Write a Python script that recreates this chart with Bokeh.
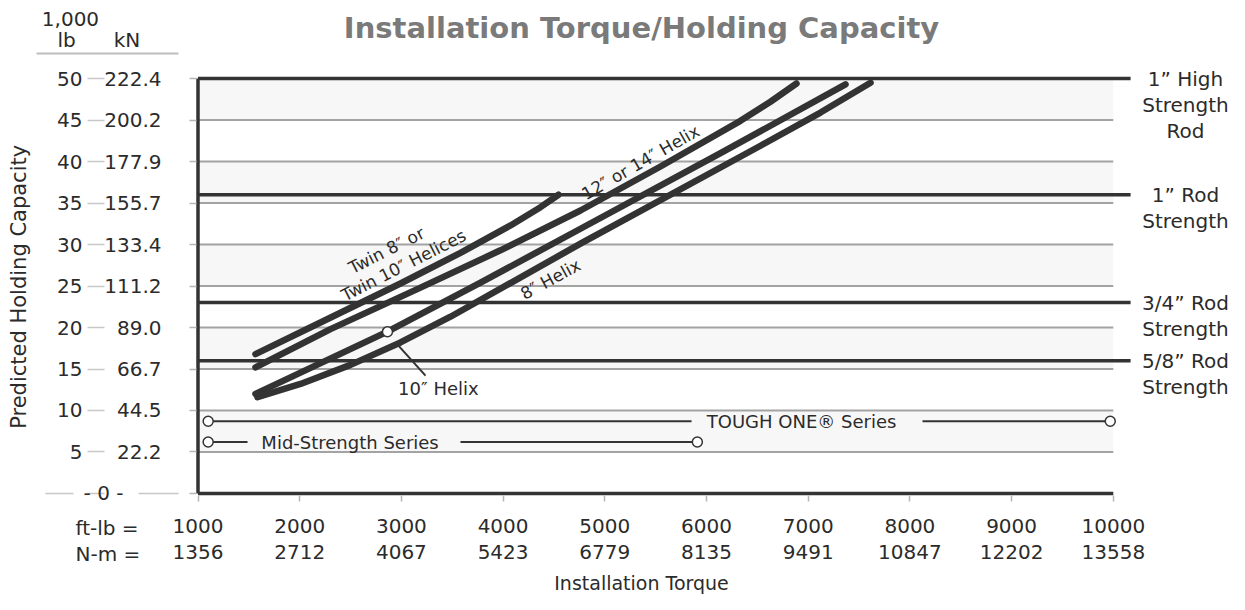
import math
from bokeh.plotting import figure
from bokeh.models import LinearAxis, FixedTicker, Label, Arrow, Range1d
from bokeh.embed import file_html
from bokeh.resources import INLINE

# ---------------- data ----------------
torque_ticks = [1000, 2000, 3000, 4000, 5000, 6000, 7000, 8000, 9000, 10000]
nm_labels = ["1356", "2712", "4067", "5423", "6779", "8135", "9491", "10847", "12202", "13558"]
capacity_ticks = [0, 5, 10, 15, 20, 25, 30, 35, 40, 45, 50]
kn_labels = ["", "22.2", "44.5", "66.7", "89.0", "111.2", "133.4", "155.7", "177.9", "200.2", "222.4"]

twin_torque = [1565, 2204, 2991, 3581, 4073, 4368, 4545]
twin_capacity = [16.8, 20.6, 25.3, 29.0, 32.3, 34.5, 36.0]
helix12_torque = [1565, 2303, 3188, 3974, 4761, 5548, 6334, 6629, 6885]
helix12_capacity = [15.2, 19.8, 24.8, 29.3, 34.1, 39.4, 44.9, 47.2, 49.4]
helix10_torque = [1565, 2863, 3778, 4761, 6138, 7367]
helix10_capacity = [12.0, 19.5, 25.4, 31.9, 41.0, 49.3]
helix8_torque = [1585, 2008, 2500, 2991, 3483, 4761, 6531, 7121, 7613]
helix8_capacity = [11.6, 13.2, 15.5, 18.2, 21.3, 30.1, 41.9, 45.9, 49.5]

rod_names = ["1\u201d High\nStrength\nRod", "1\u201d Rod\nStrength", "3/4\u201d Rod\nStrength", "5/8\u201d Rod\nStrength"]
rod_strength = [50, 36, 23, 16]

series_names = ["TOUGH ONE\u00ae Series", "Mid-Strength Series"]
series_capacity = [8.7, 6.2]
series_start = [1100, 1100]
series_end = [9970, 5910]
series_gap = [(5853, 8124), (1487, 3581)]
series_label_x = [6935, 2495]

# ---------------- layout constants ----------------
X0, X1 = 1000, 10000
Y0, Y1 = 0, 50
ROD_END = 10170
PX_PER_K = 8.3
DARK = "#333333"
TEXT = "#2b2b2b"
GRID = "#a3a3a3"
FONT = "DejaVu Sans"

p = figure(width=1229, height=594, x_range=Range1d(-942.0, 11142.6), y_range=Range1d(-12.17, 59.40),
           output_backend="svg", toolbar_location=None, title_location=None,
           min_border=0, min_border_left=0, min_border_right=0, min_border_top=0, min_border_bottom=0)
p.outline_line_color = None
p.xgrid.visible = False
p.ygrid.visible = False
p.background_fill_color = "white"
p.border_fill_color = "white"

# bottom axis (ft-lb)
xa = p.xaxis[0]
xa.fixed_location = -0.3
xa.ticker = FixedTicker(ticks=torque_ticks)
xa.major_label_overrides = {t: str(t) for t in torque_ticks}
xa.axis_line_color = None
xa.major_tick_line_color = "#b5b5b5"
xa.major_tick_line_width = 1.5
xa.major_tick_out = 6
xa.major_tick_in = 0
xa.minor_tick_line_color = None
xa.major_label_text_font = FONT
xa.major_label_text_font_size = "20px"
xa.major_label_text_color = TEXT
xa.major_label_standoff = 17

# second bottom axis (N-m)
nm_axis = LinearAxis(ticker=FixedTicker(ticks=torque_ticks), fixed_location=-5.84,
                     major_label_overrides={t: s for t, s in zip(torque_ticks, nm_labels)})
nm_axis.axis_line_color = None
nm_axis.major_tick_line_color = None
nm_axis.minor_tick_line_color = None
nm_axis.major_tick_out = 0
nm_axis.major_label_text_font = FONT
nm_axis.major_label_text_font_size = "20px"
nm_axis.major_label_text_color = TEXT
nm_axis.major_label_standoff = 3
p.add_layout(nm_axis, "below")

# left axis (kN), nearest to plot
ya = p.yaxis[0]
ya.fixed_location = 985
ya.ticker = FixedTicker(ticks=capacity_ticks)
ya.major_label_overrides = {t: s for t, s in zip(capacity_ticks, kn_labels)}
ya.axis_line_color = None
ya.major_tick_line_color = "#b5b5b5"
ya.major_tick_line_width = 1.5
ya.major_tick_out = 7
ya.major_tick_in = 0
ya.minor_tick_line_color = None
ya.major_label_text_font = FONT
ya.major_label_text_font_size = "20px"
ya.major_label_text_color = TEXT
ya.major_label_standoff = 28

# outer left axis (1,000 lb)
lb_axis = LinearAxis(ticker=FixedTicker(ticks=capacity_ticks), fixed_location=81,
                     major_label_overrides={t: ("" if t == 0 else str(t)) for t in capacity_ticks})
lb_axis.axis_line_color = None
lb_axis.major_tick_line_color = "#c8c8c8"
lb_axis.major_tick_line_width = 1.5
lb_axis.major_tick_out = 17
lb_axis.major_tick_in = 0
lb_axis.minor_tick_line_color = None
lb_axis.major_label_text_font = FONT
lb_axis.major_label_text_font_size = "20px"
lb_axis.major_label_text_color = TEXT
lb_axis.major_label_standoff = 5
p.add_layout(lb_axis, "left")

# background bands and grid lines
band_bottoms = capacity_ticks[1:-1:2]
band_tops = capacity_ticks[2::2]
p.quad(left=X0, right=X1, bottom=band_bottoms, top=band_tops, fill_color="#f7f7f7", line_color=None)
grid_vals = capacity_ticks[1:-1]
p.segment(x0=[X0] * len(grid_vals), x1=[X1] * len(grid_vals), y0=grid_vals, y1=grid_vals,
          line_color=GRID, line_width=2)

# rod strength lines
p.segment(x0=[X0] * len(rod_strength), x1=[ROD_END] * len(rod_strength), y0=rod_strength, y1=rod_strength,
          line_color=DARK, line_width=3.5)

# frame (left and bottom)
p.segment(x0=[X0, X0], y0=[Y0, Y0], x1=[X0, X1], y1=[Y1, Y0], line_color=DARK, line_width=3.5)

# series lines
for name, cap, xs, xe, gap, lx in zip(series_names, series_capacity, series_start, series_end,
                                       series_gap, series_label_x):
    p.segment(x0=[xs, gap[1]], x1=[gap[0], xe], y0=[cap, cap], y1=[cap, cap], line_color=DARK, line_width=2)
    p.scatter([xs, xe], [cap, cap], size=10, marker="circle", fill_color="white", line_color=DARK,
              line_width=1.5)
    p.add_layout(Label(x=lx, y=cap, text=name, text_align="center", text_baseline="middle",
                       text_font=FONT, text_font_size="18px", text_color=TEXT))

# helix curves
for xs, ys in [(twin_torque, twin_capacity), (helix12_torque, helix12_capacity),
               (helix10_torque, helix10_capacity), (helix8_torque, helix8_capacity)]:
    p.line(xs, ys, line_color=DARK, line_width=6.5, line_cap="round", line_join="round")

# 10" helix callout
p.add_layout(Arrow(end=None, x_start=2942, y_start=18.2, x_end=3237, y_end=14.2,
                   line_color=DARK, line_width=2))
p.scatter([helix10_torque[1]], [helix10_capacity[1]], size=10, marker="circle", fill_color="white",
          line_color=DARK, line_width=1.5)
p.add_layout(Label(x=3364, y=12.65, text="10\u2033 Helix", text_align="center", text_baseline="middle",
                   text_font=FONT, text_font_size="18px", text_color=TEXT))

# curve labels
curve_labels = [
    ("Twin 8\u2033 or", 2853, 29.3, 0.47),
    ("Twin 10\u2033 Helices", 3021, 27.5, 0.47),
    ("12\u2033 or 14\u2033 Helix", 5351, 39.9, 0.52),
    ("8\u2033 Helix", 4466, 25.8, 0.50),
]
for txt, lx, ly, ang in curve_labels:
    p.add_layout(Label(x=lx, y=ly, text=txt, angle=ang, text_align="center", text_baseline="middle",
                       text_font=FONT, text_font_size="17px", text_color=TEXT))

# rod labels
for name, rs in zip(rod_names, rod_strength):
    p.add_layout(Label(x=10710, y=rs + 12 / PX_PER_K, text=name, text_align="center", text_baseline="top",
                       text_font=FONT, text_font_size="20px", text_color=TEXT, text_line_height=1.1))

# title
p.add_layout(Label(x=5361, y=56.1, text="Installation Torque/Holding Capacity", text_align="center",
                   text_baseline="middle", text_font=FONT, text_font_size="29px", text_font_style="bold",
                   text_color="#7a7a7a"))

# y axis title
p.add_layout(Label(x=-765, y=24.9, text="Predicted Holding Capacity", angle=math.pi / 2, text_align="center",
                   text_baseline="middle", text_font=FONT, text_font_size="21px", text_color=TEXT))

# header over the left axes
p.add_layout(Label(x=-254, y=57.2, text="1,000", text_align="center", text_baseline="middle",
                   text_font=FONT, text_font_size="20px", text_color=TEXT))
p.add_layout(Label(x=-293, y=54.6, text="lb", text_align="center", text_baseline="middle",
                   text_font=FONT, text_font_size="20px", text_color=TEXT))
p.add_layout(Label(x=302, y=54.6, text="kN", text_align="center", text_baseline="middle",
                   text_font=FONT, text_font_size="20px", text_color=TEXT))
p.add_layout(Arrow(end=None, x_start=-588, y_start=53.0, x_end=808, y_end=53.0,
                   line_color="#bdbdbd", line_width=2))

# zero row
p.add_layout(Label(x=71, y=0, text="- 0 -", text_align="center", text_baseline="middle",
                   text_font=FONT, text_font_size="20px", text_color=TEXT))
p.add_layout(Arrow(end=None, x_start=-500, y_start=0, x_end=-224, y_end=0, line_color="#c8c8c8", line_width=1.5))
p.add_layout(Arrow(end=None, x_start=415, y_start=0, x_end=808, y_end=0, line_color="#c8c8c8", line_width=1.5))

# bottom row captions
p.add_layout(Label(x=-205, y=-4.1, text="ft-lb =", text_align="left", text_baseline="middle",
                   text_font=FONT, text_font_size="20px", text_color=TEXT))
p.add_layout(Label(x=-205, y=-7.23, text="N-m =", text_align="left", text_baseline="middle",
                   text_font=FONT, text_font_size="20px", text_color=TEXT))
p.add_layout(Label(x=5361, y=-12.05, text="Installation Torque", text_align="center", text_baseline="bottom",
                   text_font=FONT, text_font_size="19px", text_color=TEXT))

open("out.html", "w").write(file_html(p, INLINE))
